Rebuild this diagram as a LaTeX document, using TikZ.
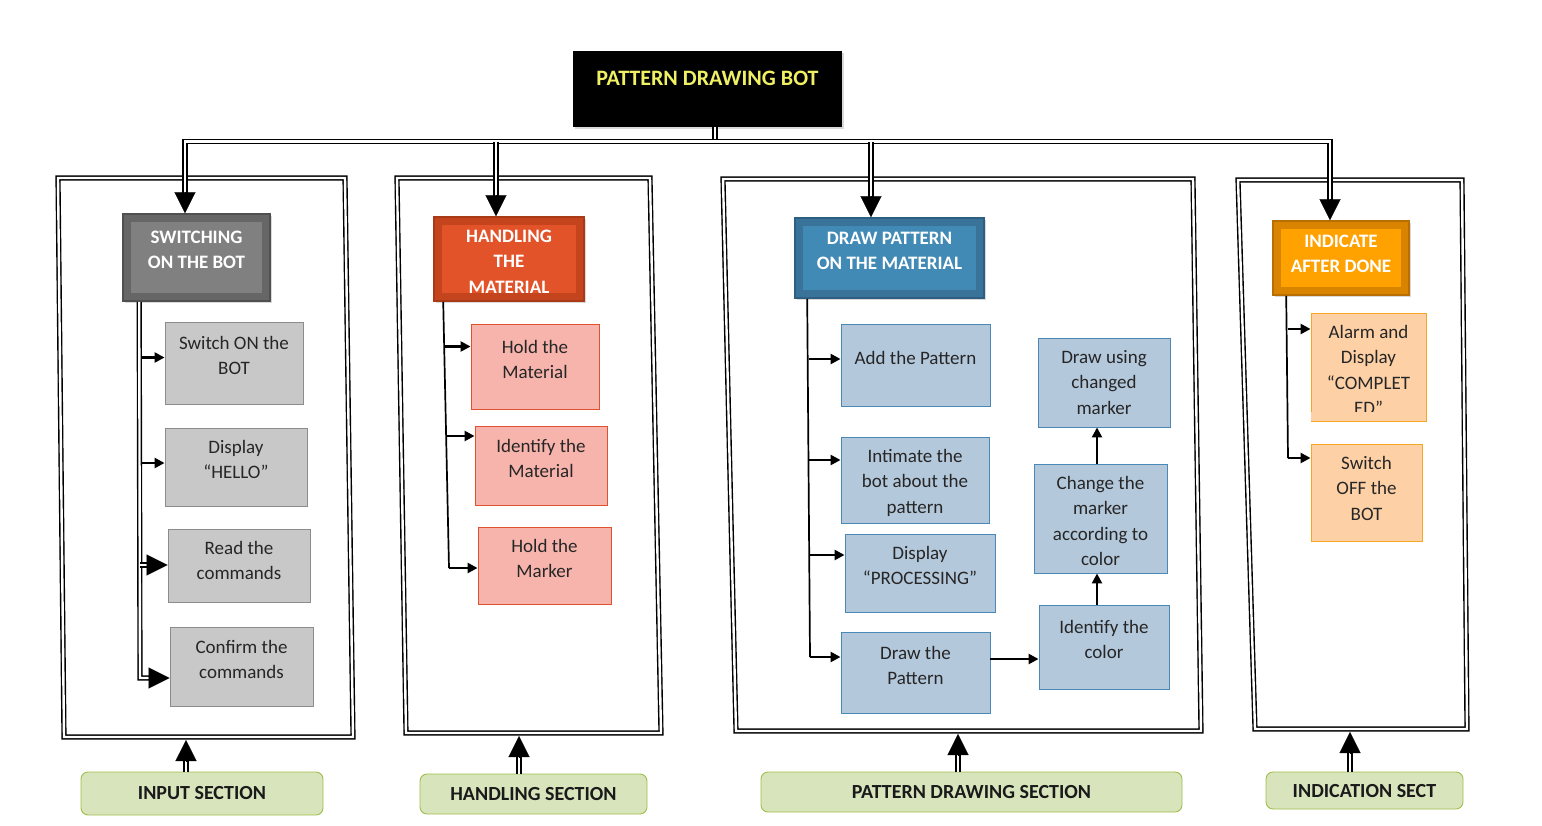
\documentclass[tikz,border=0pt]{standalone}
\usepackage{fontspec}
\setmainfont{Carlito}
\usetikzlibrary{arrows.meta,shadows,calc}
\definecolor{txt}{HTML}{262626}
\definecolor{gfill}{HTML}{C8C8C8}
\definecolor{gline}{HTML}{8C8C8C}
\definecolor{rfill}{HTML}{F7B4AC}
\definecolor{rline}{HTML}{E0522D}
\definecolor{bfill}{HTML}{B4C8DC}
\definecolor{bline}{HTML}{4A88B8}
\definecolor{ofill}{HTML}{FDD0A6}
\definecolor{oline}{HTML}{F5A623}
\definecolor{lfill}{HTML}{D8E4BC}
\definecolor{lline}{HTML}{A0BE4A}
\definecolor{ltxt}{HTML}{1A1A1A}
\definecolor{h1o}{HTML}{666666}
\definecolor{h1i}{HTML}{808080}
\definecolor{h1l}{HTML}{505050}
\definecolor{h2o}{HTML}{C4441E}
\definecolor{h2i}{HTML}{E2532A}
\definecolor{h2l}{HTML}{A83A18}
\definecolor{h3o}{HTML}{3A739A}
\definecolor{h3i}{HTML}{418AB6}
\definecolor{h3l}{HTML}{2E5F80}
\definecolor{h4o}{HTML}{D98400}
\definecolor{h4i}{HTML}{FFA200}
\definecolor{h4l}{HTML}{B86E00}
\definecolor{ttl}{HTML}{F0F064}
\newcommand\fs{\fontsize{19}{25.5}\selectfont}
\newcommand\fb{\fontsize{19}{25.5}\selectfont\bfseries}
\newcommand\tb[4]{\parbox[c][#2pt][t]{#1pt}{\centering\vspace*{\dimexpr #3pt - 15pt\relax}\rule{0pt}{15pt}#4\par}}
\begin{document}
\begin{tikzpicture}[x=1pt,y=-1pt,
  dbl/.style={draw=black, line width=1.4pt, double=white, double distance=2.4pt, line join=miter},
  bigtip/.style={line width=0.1pt, -{Triangle[length=21pt,width=21pt]}},
  arrsm/.style={line width=2.4pt, -{Triangle[length=10pt,width=10pt]}},
  trunk/.style={line width=1.7pt},
  item/.style={inner sep=0pt, line width=0.9pt, font=\fs, text=txt},
  gbox/.style={item, fill=gfill, draw=gline},
  rbox/.style={item, fill=rfill, draw=rline},
  bbox/.style={item, fill=bfill, draw=bline},
  obox/.style={item, fill=ofill, draw=oline},
  hdr/.style n args={3}{inner sep=0pt, font=\fb, text=white, fill=#1, draw=#3, line width=1.6pt,
     drop shadow={shadow xshift=1.5pt, shadow yshift=-1.5pt, opacity=0.3},
     path picture={\fill[#2] ([shift={(8pt,-8pt)}]path picture bounding box.north west) rectangle ([shift={(-8pt,8pt)}]path picture bounding box.south east);}},
  lab/.style={rounded corners=7pt, fill=lfill, draw=lline, line width=0.9pt, font=\fontsize{20}{24}\selectfont\bfseries, text=ltxt, inner sep=0pt},
  ttlbox/.style={inner sep=0pt, fill=black, font=\fontsize{22}{26}\selectfont\bfseries, text=ttl,
     drop shadow={shadow xshift=1.5pt, shadow yshift=-1.5pt, opacity=0.3}}
]
\useasboundingbox (0,0) rectangle (1542,825);

% title
\node[ttlbox] (title) at (707.5,89) {\tb{269}{76}{34}{PATTERN DRAWING BOT}};

% frames
\draw[dbl] (58,178) -- (345,178) -- (353,737) -- (64,737) -- cycle;
\draw[dbl] (397,178) -- (650,178) -- (661,733) -- (406,733) -- cycle;
\draw[dbl] (723,179) -- (1193,179) -- (1201,731) -- (736,731) -- cycle;
\draw[dbl] (1238,180) -- (1462,180) -- (1467,729) -- (1255,729) -- cycle;

% headers
\node[hdr={h1o}{h1i}{h1l}] (h1) at (196.5,257.5) {\tb{147}{87}{29}{SWITCHING\\ON THE BOT}};
\node[hdr={h2o}{h2i}{h2l}] (h2) at (509,259) {\tb{150}{84}{25}{HANDLING\\THE\\MATERIAL}};
\node[hdr={h3o}{h3i}{h3l}] (h3) at (889.5,258) {\tb{189}{80}{26}{DRAW PATTERN\\ON THE MATERIAL}};
\node[hdr={h4o}{h4i}{h4l}] (h4) at (1341,258) {\tb{136}{74}{26}{INDICATE\\AFTER DONE}};

% items
\node[gbox] (n1) at (234,363) {\tb{138}{82}{27}{Switch ON the\\BOT}};
\node[gbox] (n2) at (236,467) {\tb{142}{78}{25}{Display\\“HELLO”}};
\node[gbox] (n3) at (239,565.5) {\tb{142}{73}{25}{Read the\\commands}};
\node[gbox] (n4) at (241.5,666.5) {\tb{143}{79}{26}{Confirm the\\commands}};

\node[rbox] (m1) at (535,366.5) {\tb{128}{85}{29}{Hold the\\Material}};
\node[rbox] (m2) at (541,465.5) {\tb{132}{79}{26}{Identify the\\Material}};
\node[rbox] (m3) at (544.5,565.5) {\tb{133}{77}{25}{Hold the\\Marker}};

\node[bbox] (p1) at (915.5,365) {\tb{149}{82}{40}{Add the Pattern}};
\node[bbox] (p2) at (915,480) {\tb{148}{86}{25}{Intimate the\\bot about the\\pattern}};
\node[bbox] (p3) at (920,573) {\tb{150}{78}{25}{Display\\“PROCESSING”}};
\node[bbox] (p4) at (915.5,672.5) {\tb{149}{81}{27}{Draw the\\Pattern}};
\node[bbox] (p5) at (1104,382.5) {\tb{132}{89}{25}{Draw using\\changed\\marker}};
\node[bbox] (p6) at (1100.5,518.5) {\tb{133}{109}{25}{Change the\\marker\\according to\\color}};
\node[bbox] (p7) at (1104,647) {\tb{130}{84}{28}{Identify the\\color}};

\node[obox] (q1) at (1368.5,367) {\tb{115}{108}{25}{Alarm and\\Display\\“COMPLET\\ED”}};
\fill[ofill] ($(q1.south west)+(0.6,-0.6)$) rectangle ($(q1.south east)+(-0.6,-9)$);
\node[obox] (q2) at (1366.5,492.5) {\tb{111}{97}{25}{Switch\\OFF the\\BOT}};

% labels
\node[lab, minimum width=242pt, minimum height=43pt] (L1) at (202,793.5) {INPUT SECTION};
\node[lab, minimum width=227pt, minimum height=40pt] (L2) at (533.5,794) {HANDLING SECTION};
\node[lab, minimum width=421pt, minimum height=40pt] (L3) at (971.5,792) {PATTERN DRAWING SECTION};
\node[lab, minimum width=197pt, minimum height=37pt] (L4) at (1364.5,790.5) {INDICATION SECT};

% bus
\coordinate (busy) at (0,141.5);
\coordinate (xa) at (185,0);
\coordinate (xb) at (496,0);
\coordinate (xc) at (871,0);
\coordinate (xd) at (1330,0);
\coordinate (xt) at (715,0);
\draw[dbl] (xt |- title.south) -- (xt |- busy);
\draw[dbl] ($(xa |- h1.north)+(0,-18)$) -- (xa |- busy) -- (xd |- busy) -- ($(xd |- h4.north)+(0,-18)$);
\draw[dbl] (xb |- busy) -- ($(xb |- h2.north)+(0,-18)$);
\draw[dbl] (xc |- busy) -- ($(xc |- h3.north)+(0,-18)$);
\draw[bigtip] ($(xa |- h1.north)+(0,-21)$) -- (xa |- h1.north);
\draw[bigtip] ($(xb |- h2.north)+(0,-21)$) -- (xb |- h2.north);
\draw[bigtip] ($(xc |- h3.north)+(0,-21)$) -- (xc |- h3.north);
\draw[bigtip] ($(xd |- h4.north)+(0,-21)$) -- (xd |- h4.north);

% input trunk
\coordinate (i0) at ($(h1.south west)+(17,0)$);
\coordinate (ia) at (142,357.5);
\coordinate (ib) at (142,463);
\coordinate (ic) at (140,565);
\coordinate (id) at (140,678);
\draw[dbl, shorten >=19pt] (i0) -- (id) -- (id -| n4.west);
\draw[bigtip] ($(id -| n4.west)+(-21,0)$) -- (id -| n4.west);
\draw[dbl, shorten >=19pt] (ic) -- (ic -| n3.west);
\draw[bigtip] ($(ic -| n3.west)+(-21,0)$) -- (ic -| n3.west);
\draw[arrsm] (ia) -- (ia -| n1.west);
\draw[arrsm] (ib) -- (ib -| n2.west);

% handling trunk
\coordinate (hs) at ($(h2.south west)+(10,0)$);
\coordinate (ha) at (445,346.5);
\coordinate (hb) at (447,436);
\coordinate (he) at (449,568);
\draw[trunk] (hs) -- (he);
\draw[arrsm] (ha) -- (ha -| m1.west);
\draw[arrsm] (hb) -- (hb -| m2.west);
\draw[arrsm] (he) -- (he -| m3.west);

% pattern trunk
\coordinate (ps) at ($(h3.south west)+(13,0)$);
\coordinate (pa) at (808.5,359);
\coordinate (pb) at (809,460);
\coordinate (pc) at (809.5,555);
\coordinate (pe) at (810,657);
\draw[trunk] (ps) -- (pe);
\draw[arrsm] (pa) -- (pa -| p1.west);
\draw[arrsm] (pb) -- (pb -| p2.west);
\draw[arrsm] (pc) -- (pc -| p3.west);
\draw[arrsm] (pe) -- (pe -| p4.west);
\coordinate (pr) at (0,659);
\coordinate (pv) at (1097,0);
\draw[arrsm] (pr -| p4.east) -- (pr -| p7.west);
\draw[arrsm] (pv |- p7.north) -- (pv |- p6.south);
\draw[arrsm] (pv |- p6.north) -- (pv |- p5.south);

% indication trunk
\coordinate (qs) at ($(h4.south west)+(14,0)$);
\coordinate (qa) at (1287.5,329);
\coordinate (qe) at (1288,458);
\draw[trunk] (qs) -- (qe);
\draw[arrsm] (qa) -- (qa -| q1.west);
\draw[arrsm] (qe) -- (qe -| q2.west);

% bottom arrows
\coordinate (f1) at (186,740);
\coordinate (f2) at (519,736);
\coordinate (f3) at (958,734);
\coordinate (f4) at (1350,732);
\foreach \L/\f in {L1/f1,L2/f2,L3/f3,L4/f4}{
  \draw[dbl, shorten >=19pt] (\L.north -| \f) -- (\f);
  \draw[bigtip] ($(\f)+(0,21)$) -- (\f);
}
\end{tikzpicture}
\end{document}
